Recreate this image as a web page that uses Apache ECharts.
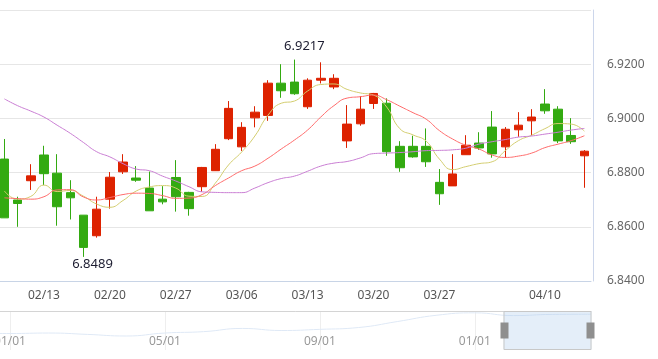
<!DOCTYPE html>
<html><head><meta charset="utf-8">
<script src="https://cdn.jsdelivr.net/npm/echarts@6/dist/echarts.min.js"></script>
<style>html,body{margin:0;padding:0;background:#fff}#c{width:658px;height:359px}</style>
</head><body><div id="c"></div>
<script>
const dates = ['02/08','02/09','02/10','02/13','02/14','02/15','02/16','02/17','02/20','02/21','02/22','02/23','02/24','02/27','02/28','03/01','03/02','03/03','03/06','03/07','03/08','03/09','03/10','03/13','03/14','03/15','03/16','03/17','03/20','03/21','03/22','03/23','03/24','03/27','03/28','03/29','03/30','03/31','04/05','04/06','04/07','04/10','04/11','04/12','04/13'];
const tickLabels = ['02/13','02/20','02/27','03/06','03/13','03/20','03/27','04/10'];
const opens  = [6.8850,6.8699,6.8770,6.8865,6.8798,6.8726,6.8643,6.8567,6.8702,6.8803,6.8780,6.8743,6.8702,6.8782,6.8727,6.8748,6.8807,6.8925,6.8895,6.9002,6.9011,6.9130,6.9134,6.9043,6.9141,6.9116,6.8917,6.8980,6.9055,6.9056,6.8897,6.8897,6.8897,6.8764,6.8751,6.8866,6.8909,6.8968,6.8895,6.8958,6.8991,6.9053,6.9034,6.8937,6.8862];
const closes = [6.8633,6.8686,6.8788,6.8796,6.8674,6.8707,6.8524,6.8665,6.8783,6.8839,6.8772,6.8659,6.8692,6.8711,6.8667,6.8819,6.8886,6.9037,6.8967,6.9023,6.9130,6.9102,6.9091,6.9141,6.9148,6.9148,6.8979,6.9034,6.9092,6.8877,6.8818,6.8858,6.8840,6.8722,6.8795,6.8901,6.8891,6.8869,6.8960,6.8975,6.9005,6.9028,6.8917,6.8914,6.8879];
const lows   = [6.8633,6.8600,6.8736,6.8754,6.8604,6.8627,6.8489,6.8560,6.8667,6.8795,6.8766,6.8659,6.8683,6.8656,6.8641,6.8729,6.8806,6.8920,6.8880,6.8967,6.8991,6.9076,6.9087,6.9035,6.9129,6.9108,6.8891,6.8973,6.9035,6.8862,6.8803,6.8855,6.8821,6.8681,6.8751,6.8866,6.8884,6.8855,6.8855,6.8932,6.8937,6.9017,6.8909,6.8906,6.8744];
const highs  = [6.8924,6.8711,6.8831,6.8899,6.8868,6.8772,6.8643,6.8711,6.8802,6.8868,6.8824,6.8804,6.8750,6.8846,6.8729,6.8821,6.8905,6.9064,6.8986,6.9045,6.9141,6.9200,6.9217,6.9148,6.9207,6.9163,6.9049,6.9082,6.9094,6.9074,6.8916,6.8936,6.8963,6.8813,6.8868,6.8938,6.8949,6.9027,6.8968,6.9023,6.9034,6.9108,6.9045,6.9001,6.8883];
const ma5    = [6.8732,6.8702,6.8712,6.8754,6.8730,6.8734,6.8713,6.8684,6.8672,6.8697,6.8732,6.8747,6.8752,6.8743,6.8713,6.8712,6.8761,6.8828,6.8876,6.8935,6.9012,6.9056,6.9064,6.9101,6.9125,6.9127,6.9107,6.9094,6.9086,6.9042,6.8962,6.8939,6.8916,6.8850,6.8811,6.8822,6.8833,6.8840,6.8881,6.8918,6.8938,6.8962,6.8981,6.8979,6.8953];
const ma10   = [6.8707,6.8704,6.8702,6.8711,6.8736,6.8737,6.8710,6.8699,6.8708,6.8719,6.8724,6.8723,6.8715,6.8705,6.8706,6.8719,6.8752,6.8780,6.8807,6.8824,6.8853,6.8887,6.8920,6.8957,6.9005,6.9047,6.9075,6.9080,6.9086,6.9069,6.9045,6.9021,6.8997,6.8955,6.8924,6.8901,6.8887,6.8865,6.8856,6.8861,6.8872,6.8892,6.8905,6.8918,6.8936];
const maLong = [6.9072,6.9047,6.9027,6.9005,6.8975,6.8945,6.8911,6.8877,6.8858,6.8833,6.8813,6.8807,6.8787,6.8769,6.8748,6.8729,6.8727,6.8726,6.8726,6.8743,6.8763,6.8778,6.8787,6.8805,6.8824,6.8835,6.8841,6.8854,6.8870,6.8872,6.8874,6.8877,6.8881,6.8882,6.8884,6.8890,6.8905,6.8914,6.8922,6.8931,6.8935,6.8942,6.8949,6.8957,6.8963];
const yMin = 6.84, yMax = 6.94, yStep = 0.02;
const overviewMonths = ['2015-12','2016-01','2016-02','2016-03','2016-04','2016-05','2016-06','2016-07','2016-08','2016-09','2016-10','2016-11','2016-12','2017-01','2017-02','2017-03','2017-04'];
const overviewValues = [6.52,6.51,6.52,6.49,6.455,6.52,6.55,6.62,6.575,6.60,6.64,6.77,6.906,6.96,6.90,6.926,6.93];
const overviewLabels = ['2016-01','2016-05','2016-09','2017-01'];

const FONT = '"Noto Sans", "DejaVu Sans", sans-serif';
const candles = dates.map((d, i) => [opens[i], closes[i], lows[i], highs[i]]);
const chart = echarts.init(document.getElementById('c'), null, {renderer: 'canvas'});
const line = (data, color) => ({type: 'line', xAxisIndex: 0, yAxisIndex: 0, data, smooth: true,
  symbol: 'none', showSymbol: false, silent: true, lineStyle: {width: 1, color}, itemStyle: {color}});
chart.setOption({
  animation: false,
  textStyle: {fontFamily: FONT},
  grid: [
    {left: -2.2, right: 67, top: 10, bottom: 78, outerBoundsMode: 'none', containLabel: false},
    {left: -28.75, right: 67, top: 311, height: 39, outerBoundsMode: 'none', containLabel: false}
  ],
  xAxis: [
    {type: 'category', gridIndex: 0, data: dates, boundaryGap: true,
     axisLine: {lineStyle: {color: '#c8d4e6'}},
     axisTick: {inside: true, length: 9, alignWithLabel: true, interval: (i, v) => tickLabels.includes(v), lineStyle: {color: '#c8d4e6'}},
     axisLabel: {interval: (i, v) => tickLabels.includes(v), color: '#555', fontSize: 12, margin: 9, fontFamily: FONT},
     splitLine: {show: false}},
    {type: 'category', gridIndex: 1, data: overviewMonths, boundaryGap: false, position: 'top',
     axisLine: {lineStyle: {color: '#d4d4d4'}}, axisTick: {show: false},
     axisLabel: {inside: true, margin: 25, interval: (i, v) => overviewLabels.includes(v),
       formatter: v => v.slice(5) + '/01', color: '#999', fontSize: 12, fontFamily: FONT},
     splitLine: {show: true, interval: (i, v) => overviewLabels.includes(v), lineStyle: {color: '#eeeeee'}}}
  ],
  yAxis: [
    {type: 'value', gridIndex: 0, position: 'right', min: yMin, max: yMax, interval: yStep, offset: 2,
     axisLine: {show: true, lineStyle: {color: '#ccd6eb'}}, axisTick: {show: false},
     axisLabel: {formatter: v => v.toFixed(4), color: '#666', margin: 14, showMaxLabel: false, fontSize: 12, fontFamily: FONT},
     splitLine: {lineStyle: {color: '#e6e6e6'}}},
    {type: 'value', gridIndex: 1, min: 6.15, max: 7.0, show: false}
  ],
  dataZoom: [{
    type: 'slider', xAxisIndex: 0, start: 0, end: 100, filterMode: 'none',
    left: 503, right: 67, top: 311, height: 39,
    showDataShadow: false, showDetail: false, brushSelect: false, zoomLock: false,
    borderColor: '#c8c8c8', borderRadius: 0, backgroundColor: 'rgba(0,0,0,0)',
    fillerColor: 'rgba(167,199,235,0.3)',
    handleIcon: 'path://M0,0H8V16H0Z', handleSize: 16,
    handleStyle: {color: '#8f8f8f', borderColor: '#8f8f8f', borderWidth: 0},
    moveHandleSize: 0, moveHandleStyle: {opacity: 0},
    emphasis: {handleStyle: {color: '#8f8f8f', borderColor: '#8f8f8f'}, moveHandleStyle: {opacity: 0}},
    dataBackground: {lineStyle: {opacity: 0}, areaStyle: {opacity: 0}},
    selectedDataBackground: {lineStyle: {opacity: 0}, areaStyle: {opacity: 0}},
    textStyle: {color: 'rgba(0,0,0,0)'}
  }],
  series: [
    {type: 'candlestick', xAxisIndex: 0, yAxisIndex: 0, data: candles, barWidth: 9,
     itemStyle: {color: '#dd2200', color0: '#33aa11', borderColor: '#dd2200', borderColor0: '#33aa11', borderWidth: 1},
     markPoint: {symbol: 'circle', symbolSize: 0, silent: true,
       label: {show: true, position: 'inside', color: '#1c1c30', fontSize: 13, fontFamily: FONT,
         formatter: p => Number(p.value).toFixed(4)},
       data: [
         {type: 'max', valueDim: 'highest', label: {offset: [10, -13]}},
         {type: 'min', valueDim: 'lowest', label: {offset: [9, 7]}}
       ]}},
    line(ma5, '#d3cd6f'),
    line(ma10, '#ff6a6a'),
    line(maLong, '#c97dd3'),
    {type: 'line', xAxisIndex: 1, yAxisIndex: 1, data: overviewValues, smooth: true, symbol: 'none',
     silent: true, lineStyle: {width: 1, color: '#dfe9f6'}}
  ]
});
</script>
</body></html>
